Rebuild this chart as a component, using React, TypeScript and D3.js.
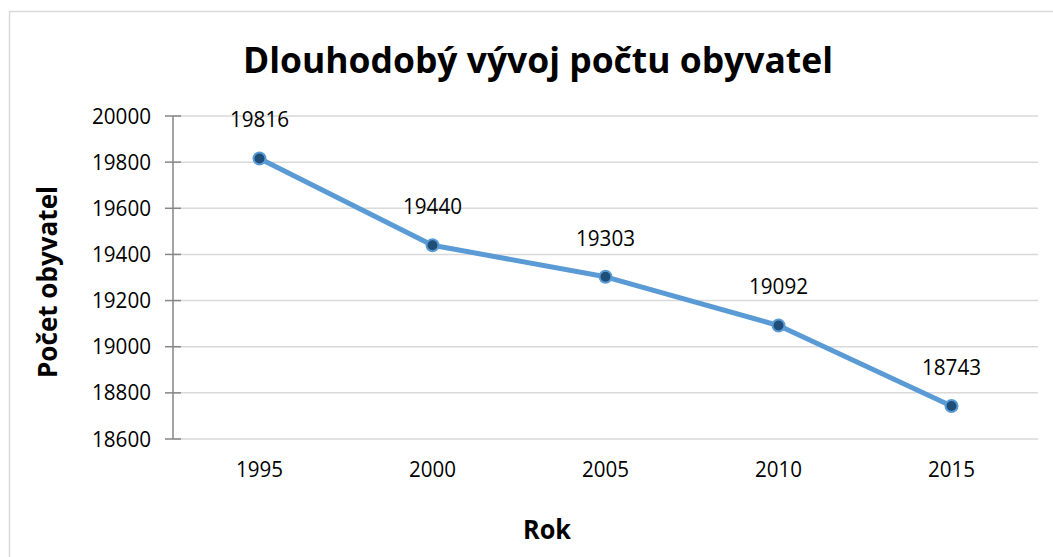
import React from "react"
import * as d3 from "d3"

const years = ["1995", "2000", "2005", "2010", "2015"]
const population = [19816, 19440, 19303, 19092, 18743]
const yTicks = [18600, 18800, 19000, 19200, 19400, 19600, 19800, 20000]

const titleText = "Dlouhodobý vývoj počtu obyvatel"
const xTitle = "Rok"
const yTitle = "Počet obyvatel"

const font = "'Open Sans', 'DejaVu Sans', sans-serif"

const App = () => {
    const width = 1053, height = 557
    const margin = {top: 116, right: 15, bottom: 118, left: 173}

    const x = d3.scaleBand()
        .domain(years)
        .range([margin.left, width - margin.right])

    const y = d3.scaleLinear()
        .domain([18600, 20000])
        .range([height - margin.bottom, margin.top])

    const cx = (d: string) => (x(d) as number) + x.bandwidth() / 2

    const line = d3.line<number>()
        .x((d, i) => cx(years[i]))
        .y(d => y(d))

    return (
        <svg width={width} height={height} style={{position: "absolute", left: 0, top: 0}}>
            <rect x={0} y={0} width={width} height={height} fill="#fff" />
            <rect x={9.5} y={11.5} width={1100} height={600} fill="none" stroke="#d9d9d9" strokeWidth={1.5} />

            <text x={538} y={73} textAnchor="middle" fontFamily={font} fontWeight="bold"
                  fontSize={35} fill="#000" textLength={590} lengthAdjust="spacingAndGlyphs">{titleText}</text>

            {yTicks.map(t => (
                <g key={t}>
                    <line x1={margin.left} x2={width - margin.right} y1={y(t)} y2={y(t)}
                          stroke="#d9d9d9" strokeWidth={1.5} />
                    <line x1={165} x2={181} y1={y(t)} y2={y(t)} stroke="#868686" strokeWidth={1.5} />
                    <text x={151} y={y(t)} dy="0.36em" textAnchor="end" fontFamily={font}
                          fontSize={21} fill="#000" textLength={59} lengthAdjust="spacingAndGlyphs">{t}</text>
                </g>
            ))}
            <line x1={margin.left} x2={margin.left} y1={y(20000)} y2={y(18600)} stroke="#868686" strokeWidth={1.5} />

            {years.map(yr => (
                <text key={yr} x={cx(yr)} y={477} textAnchor="middle" fontFamily={font}
                      fontSize={21} fill="#000" textLength={47} lengthAdjust="spacingAndGlyphs">{yr}</text>
            ))}

            <path d={line(population) as string} fill="none" stroke="#5b9bd5" strokeWidth={5}
                  strokeLinejoin="round" strokeLinecap="round" />

            {population.map((v, i) => (
                <g key={i}>
                    <circle cx={cx(years[i])} cy={y(v)} r={6} fill="#1f4e79" stroke="#5b9bd5" strokeWidth={2} />
                    <text x={cx(years[i])} y={y(v) - 31} textAnchor="middle" fontFamily={font}
                          fontSize={21} fill="#000" textLength={59} lengthAdjust="spacingAndGlyphs">{v}</text>
                </g>
            ))}

            <text x={547} y={539} textAnchor="middle" fontFamily={font} fontWeight="bold"
                  fontSize={26} fill="#000" textLength={48} lengthAdjust="spacingAndGlyphs">{xTitle}</text>

            <text transform={`translate(57,282) rotate(-90)`} textAnchor="middle" fontFamily={font}
                  fontWeight="bold" fontSize={26} fill="#000" textLength={192}
                  lengthAdjust="spacingAndGlyphs">{yTitle}</text>
        </svg>
    )
}

export default App
